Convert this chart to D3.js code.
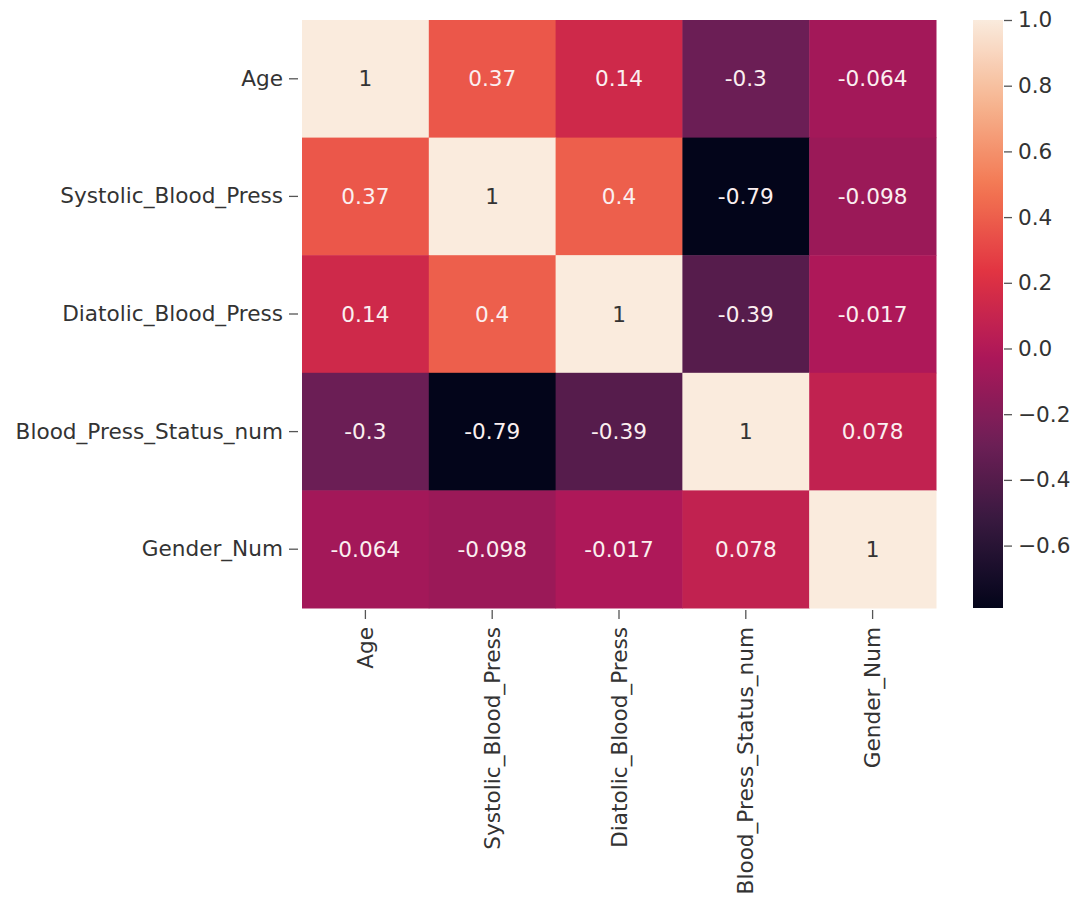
<!DOCTYPE html>
<html>
<head>
<meta charset="utf-8">
<script src="https://cdn.jsdelivr.net/npm/d3@7"></script>
<style>
  body { margin: 0; background: #fff; }
  svg text { font-family: "DejaVu Sans", sans-serif; }
</style>
</head>
<body>
<div id="chart"></div>
<script>
// data
const labels = ["Age", "Systolic_Blood_Press", "Diatolic_Blood_Press", "Blood_Press_Status_num", "Gender_Num"];
const corrAge      = [1, 0.37, 0.14, -0.3, -0.064];
const corrSystolic = [0.37, 1, 0.4, -0.79, -0.098];
const corrDiatolic = [0.14, 0.4, 1, -0.39, -0.017];
const corrStatus   = [-0.3, -0.79, -0.39, 1, 0.078];
const corrGender   = [-0.064, -0.098, -0.017, 0.078, 1];
const matrix = [corrAge, corrSystolic, corrDiatolic, corrStatus, corrGender];
const cbarTicks = [1.0, 0.8, 0.6, 0.4, 0.2, 0.0, -0.2, -0.4, -0.6];

// seaborn "rocket" approximation (sampled stops)
const rocketPos = [0, 0.143, 0.286, 0.429, 0.571, 0.714, 0.857, 1];
const rocketCol = ["#03051a", "#35193e", "#701f57", "#ad1759", "#e13342", "#f37651", "#f6b48f", "#faebdd"];
const rocket = d3.scaleLinear().domain(rocketPos).range(rocketCol).interpolate(d3.interpolateRgb);

const width = 1075, height = 907;
const gridLeft = 302, gridTop = 20, gridW = 634, gridH = 588;
const textColor = "#333";
const fontSize = 21.6;

const svg = d3.select("#chart").append("svg")
    .attr("width", width)
    .attr("height", height);

const cells = matrix.flatMap((row, i) => row.map((v, j) => ({i, j, v})));
const vmin = d3.min(cells, d => d.v), vmax = d3.max(cells, d => d.v);
const color = v => rocket((v - vmin) / (vmax - vmin));

const x = d3.scaleBand().domain(labels).range([gridLeft, gridLeft + gridW]);
const y = d3.scaleBand().domain(labels).range([gridTop, gridTop + gridH]);

// cells
svg.append("g").selectAll("rect")
    .data(cells)
    .join("rect")
    .attr("x", d => x(labels[d.j]))
    .attr("y", d => y(labels[d.i]))
    .attr("width", x.bandwidth() + 0.5)
    .attr("height", y.bandwidth() + 0.5)
    .attr("fill", d => color(d.v));

// annotations, seaborn picks dark or white text from luminance
function lum(c) {
    const rgb = d3.rgb(c);
    const f = v => { v /= 255; return v <= 0.03928 ? v / 12.92 : Math.pow((v + 0.055) / 1.055, 2.4); };
    return 0.2126 * f(rgb.r) + 0.7152 * f(rgb.g) + 0.0722 * f(rgb.b);
}

svg.append("g").selectAll("text")
    .data(cells)
    .join("text")
    .attr("x", d => x(labels[d.j]) + x.bandwidth() / 2)
    .attr("y", d => y(labels[d.i]) + y.bandwidth() / 2)
    .attr("text-anchor", "middle")
    .attr("dominant-baseline", "central")
    .attr("font-size", fontSize)
    .attr("fill", d => lum(color(d.v)) > 0.408 ? "#333" : "#fbeff0")
    .text(d => String(d.v));

// axes
const yAxis = d3.axisLeft(y).tickSize(9).tickPadding(6);
const yg = svg.append("g")
    .attr("transform", `translate(${gridLeft - 4},0)`)
    .call(yAxis);
const xAxis = d3.axisBottom(x).tickSize(9).tickPadding(6);
const xg = svg.append("g")
    .attr("transform", `translate(0,${gridTop + gridH + 2})`)
    .call(xAxis);

[yg, xg].forEach(g => {
    g.select(".domain").remove();
    g.selectAll(".tick line").attr("stroke", "#555").attr("stroke-width", 1.3);
    g.selectAll(".tick text")
        .attr("font-size", fontSize)
        .attr("font-family", "DejaVu Sans, sans-serif")
        .attr("fill", textColor);
});

xg.selectAll(".tick text")
    .attr("transform", "rotate(-90)")
    .attr("text-anchor", "end")
    .attr("dominant-baseline", "central")
    .attr("x", -17)
    .attr("y", 0)
    .attr("dy", null);

// colorbar
const cbX = 973, cbW = 30;
const cbScale = d3.scaleLinear().domain([vmin, vmax]).range([gridTop + gridH, gridTop]);

const grad = svg.append("defs").append("linearGradient")
    .attr("id", "cbar")
    .attr("x1", 0).attr("x2", 0).attr("y1", 1).attr("y2", 0);
d3.range(0, 1.0001, 0.025).forEach(t => {
    grad.append("stop")
        .attr("offset", t)
        .attr("stop-color", rocket(t));
});

svg.append("rect")
    .attr("x", cbX)
    .attr("y", gridTop)
    .attr("width", cbW)
    .attr("height", gridH)
    .attr("fill", "url(#cbar)");

const cbAxis = d3.axisRight(cbScale)
    .tickValues(cbarTicks)
    .tickSize(8)
    .tickPadding(6)
    .tickFormat(d => d3.format(".1f")(d).replace("-", "\u2212"));

const cg = svg.append("g")
    .attr("transform", `translate(${cbX + cbW + 1},0)`)
    .call(cbAxis);
cg.select(".domain").remove();
cg.selectAll(".tick line").attr("stroke", "#555").attr("stroke-width", 1.3);
cg.selectAll(".tick text")
    .attr("font-size", fontSize)
    .attr("font-family", "DejaVu Sans, sans-serif")
    .attr("fill", textColor);
</script>
</body>
</html>
